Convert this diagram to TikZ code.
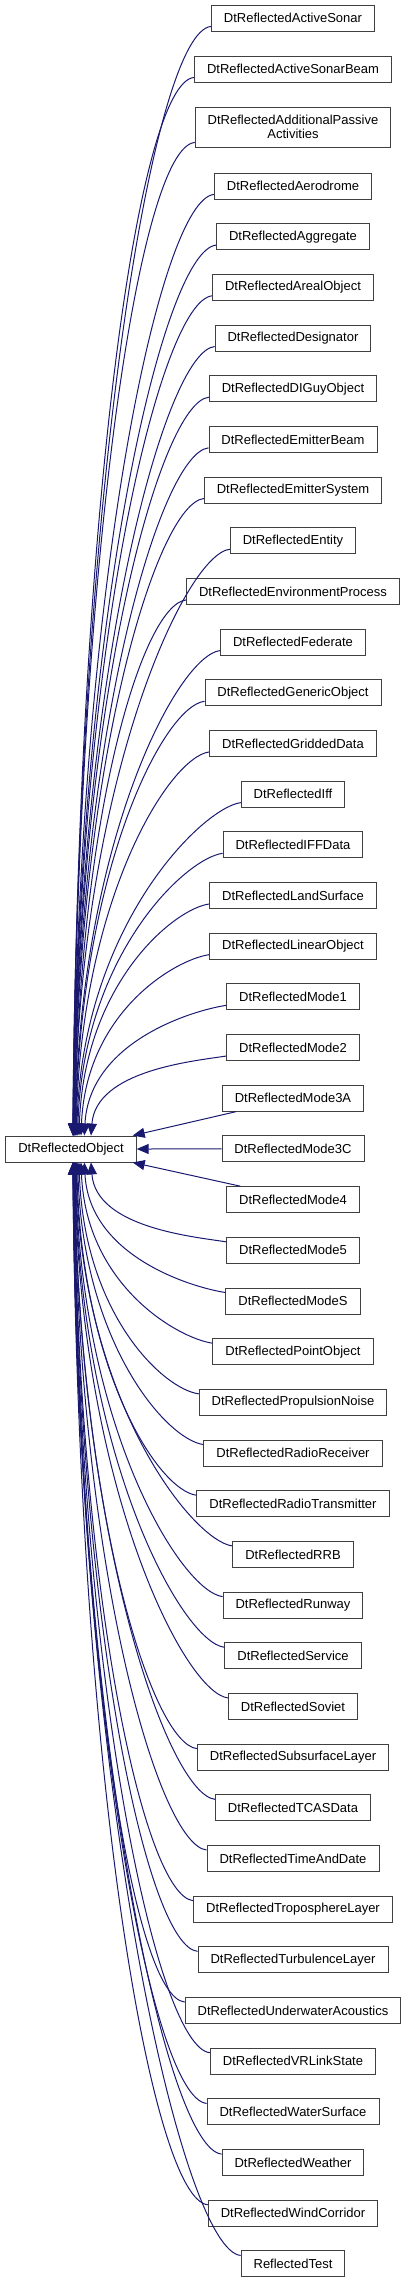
\documentclass[tikz,border=0pt]{standalone}
\usepackage{fontspec}
\setmainfont{Liberation Sans}
\usetikzlibrary{arrows.meta,calc}
\definecolor{edgeblue}{HTML}{191970}
\begin{document}
\begin{tikzpicture}[x=1pt,y=-1pt,
  cls/.style={draw=black!75, line width=0.9pt, fill=white, inner xsep=12.5pt, inner ysep=0pt,
    minimum height=26pt, align=center, font=\fontsize{13}{14.5}\selectfont},
  edge/.style={draw=edgeblue, line width=1pt, -{Triangle[length=12pt,width=10pt]}}]
\useasboundingbox (0,0) rectangle (408,2283);
\node[cls] (n0) at (71,1149) {DtReflectedObject};
\node[cls] (n1) at (293,18) {DtReflectedActiveSonar};
\node[cls] (n2) at (293,69) {DtReflectedActiveSonarBeam};
\node[cls, minimum height=40pt] (n3) at (293,127) {DtReflectedAdditionalPassive\\Activities};
\foreach \t [count=\k from 4] in {DtReflectedAerodrome, DtReflectedAggregate, DtReflectedArealObject,
  DtReflectedDesignator, DtReflectedDIGuyObject, DtReflectedEmitterBeam, DtReflectedEmitterSystem,
  DtReflectedEntity, DtReflectedEnvironmentProcess, DtReflectedFederate, DtReflectedGenericObject,
  DtReflectedGriddedData, DtReflectedIff, DtReflectedIFFData, DtReflectedLandSurface,
  DtReflectedLinearObject, DtReflectedMode1, DtReflectedMode2, DtReflectedMode3A, DtReflectedMode3C,
  DtReflectedMode4, DtReflectedMode5, DtReflectedModeS, DtReflectedPointObject,
  DtReflectedPropulsionNoise, DtReflectedRadioReceiver, DtReflectedRadioTransmitter, DtReflectedRRB,
  DtReflectedRunway, DtReflectedService, DtReflectedSoviet, DtReflectedSubsurfaceLayer,
  DtReflectedTCASData, DtReflectedTimeAndDate, DtReflectedTroposphereLayer,
  DtReflectedTurbulenceLayer, DtReflectedUnderwaterAcoustics, DtReflectedVRLinkState,
  DtReflectedWaterSurface, DtReflectedWeather, DtReflectedWindCorridor, ReflectedTest}
  {\node[cls] (n\k) at (293,{186+(\k-4)*50.68}) {\t};}
% upper edges
\foreach \k in {1,...,21}{
  \pgfmathsetmacro\dx{40/(23-\k)}
  \draw[edge] let \p1=($(n\k.south west)+(0,-5)$), \p2=($(n0.north)+(\dx,0)$),
    \n1={\y1-\y2} in
    (\p1) .. controls (\x1-30pt-0.025*\n1, \y1-5pt) and (\x2+5pt, \y2+0.57*\n1+20pt) .. (\p2);
}
% lower edges
\foreach \k in {25,...,45}{
  \pgfmathsetmacro\dx{40/(\k-23)}
  \draw[edge] let \p1=($(n\k.north west)+(0,5)$), \p2=($(n0.south)+(\dx,0)$),
    \n1={\y2-\y1} in
    (\p1) .. controls (\x1-30pt-0.025*\n1, \y1+5pt) and (\x2+5pt, \y2-0.57*\n1-20pt) .. (\p2);
}
\draw[edge] ($(n22.south west)+(14,0)$) -- ($(n0.north east)+(-4,0)$);
\draw[edge] (n23.west) -- (n0.east);
\draw[edge] ($(n24.north west)+(14,0)$) -- ($(n0.south east)+(-4,0)$);
\end{tikzpicture}
\end{document}
